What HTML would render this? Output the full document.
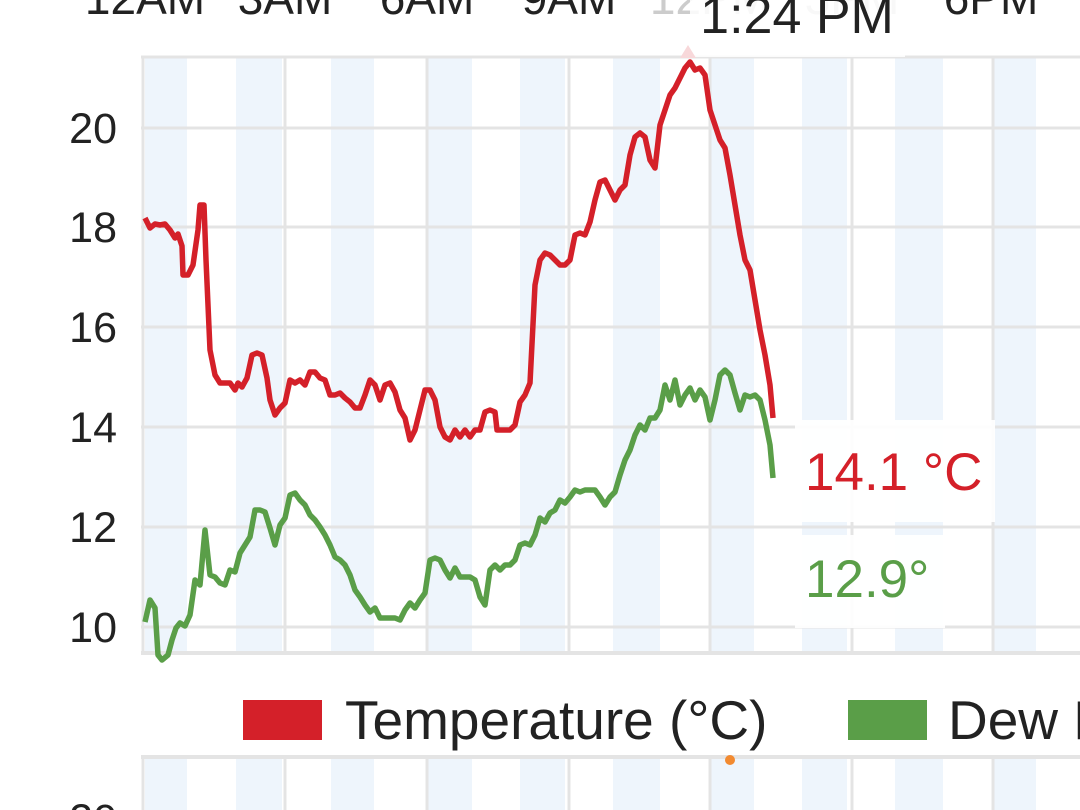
<!DOCTYPE html>
<html><head><meta charset="utf-8"><style>
html,body{margin:0;padding:0;background:#fff;width:1080px;height:810px;overflow:hidden}
svg{display:block;font-family:"Liberation Sans",sans-serif}
</style></head><body>
<svg width="1080" height="810" viewBox="0 0 1080 810">
<g fill="#eef5fc">
<rect x="145" y="57" width="42" height="596"/><rect x="236" y="57" width="46" height="596"/><rect x="331" y="57" width="43" height="596"/><rect x="427" y="57" width="45" height="596"/><rect x="520" y="57" width="45" height="596"/><rect x="613" y="57" width="47" height="596"/><rect x="709" y="57" width="45" height="596"/><rect x="802" y="57" width="45" height="596"/><rect x="895" y="57" width="48" height="596"/><rect x="992" y="57" width="44" height="596"/>
<rect x="145" y="757" width="42" height="60"/><rect x="236" y="757" width="46" height="60"/><rect x="331" y="757" width="43" height="60"/><rect x="427" y="757" width="45" height="60"/><rect x="520" y="757" width="45" height="60"/><rect x="613" y="757" width="47" height="60"/><rect x="709" y="757" width="45" height="60"/><rect x="802" y="757" width="45" height="60"/><rect x="895" y="757" width="48" height="60"/><rect x="992" y="757" width="44" height="60"/>
</g>
<g stroke="#e4e4e4" stroke-width="3">
<line x1="141" y1="57" x2="1080" y2="57"/>
<line x1="141" y1="128" x2="1080" y2="128"/><line x1="141" y1="227" x2="1080" y2="227"/><line x1="141" y1="327" x2="1080" y2="327"/><line x1="141" y1="427" x2="1080" y2="427"/><line x1="141" y1="527" x2="1080" y2="527"/><line x1="141" y1="627" x2="1080" y2="627"/>
<line x1="141" y1="653" x2="1080" y2="653" stroke-width="4"/>
<line x1="143" y1="57" x2="143" y2="653"/><line x1="285" y1="57" x2="285" y2="653"/><line x1="427" y1="57" x2="427" y2="653"/><line x1="569" y1="57" x2="569" y2="653"/><line x1="710" y1="57" x2="710" y2="653"/><line x1="852" y1="57" x2="852" y2="653"/><line x1="993" y1="57" x2="993" y2="653"/>
<line x1="141" y1="757" x2="1080" y2="757" stroke-width="4"/>
<line x1="143" y1="757" x2="143" y2="810"/><line x1="285" y1="757" x2="285" y2="810"/><line x1="427" y1="757" x2="427" y2="810"/><line x1="569" y1="757" x2="569" y2="810"/><line x1="710" y1="757" x2="710" y2="810"/><line x1="852" y1="757" x2="852" y2="810"/><line x1="993" y1="757" x2="993" y2="810"/>
</g>
<g font-size="43" fill="#222" text-anchor="end">
<text x="117" y="143">20</text><text x="117" y="242">18</text><text x="117" y="342">16</text><text x="117" y="442">14</text><text x="117" y="542">12</text><text x="117" y="642">10</text><text x="117" y="834">20</text>
</g>
<g font-size="46" fill="#222" text-anchor="middle">
<text x="145" y="14">12AM</text><text x="285" y="14">3AM</text><text x="427" y="14">6AM</text><text x="569" y="14">9AM</text><text x="710" y="14" fill="#ccc">12PM</text><text x="852" y="14" fill="#ccc">3PM</text><text x="991" y="14">6PM</text>
</g>
<rect x="690" y="-5" width="215" height="62" fill="#fff" opacity="0.85"/>
<polygon points="680,58 688,45 696,58" fill="#f8d8da"/>
<text x="797" y="33" font-size="52" fill="#222" text-anchor="middle">1:24 PM</text>
<polyline fill="none" stroke="#d42029" stroke-width="5.5" stroke-linejoin="round" points="145,218 150,228 155,224 160,225 165,224 170,230 175,238 178,234 182,246 183,275 188,275 193,265 198,230 200,205 204,205 206,260 210,350 215,375 220,383 225,383 230,383 235,390 238,383 242,387 247,378 252,355 257,353 262,355 267,378 270,400 275,415 280,408 285,403 290,380 295,383 300,380 305,385 310,372 315,372 320,378 325,380 330,395 335,395 340,393 345,398 350,402 355,408 360,408 365,395 370,380 375,385 380,400 385,385 390,383 395,392 400,410 405,418 410,440 415,430 420,410 425,390 430,390 435,400 440,427 445,437 450,440 455,430 460,437 465,430 470,437 475,430 480,430 485,412 490,410 495,412 497,430 505,430 510,430 515,425 520,402 525,395 530,383 535,285 540,260 545,253 550,255 555,260 560,265 565,265 570,260 575,235 580,233 585,235 590,222 595,200 600,182 605,180 610,190 615,200 620,190 625,185 630,155 635,137 640,133 645,137 650,160 655,168 660,125 665,110 670,95 675,88 680,78 685,68 690,62 695,70 700,68 705,75 710,110 715,125 720,140 725,148 730,175 735,205 740,235 745,260 750,270 755,300 760,330 765,355 770,385 773,418"/>
<polyline fill="none" stroke="#5a9e48" stroke-width="5.5" stroke-linejoin="round" points="145,622 150,600 155,608 158,655 162,660 168,655 172,640 176,628 180,623 185,626 190,615 195,580 200,585 205,530 210,575 215,577 220,583 225,585 230,570 235,572 240,553 245,545 250,537 255,510 260,510 265,512 270,528 275,545 280,525 285,518 290,495 295,493 300,500 305,505 310,515 315,520 320,527 325,535 330,545 335,557 340,560 345,565 350,575 355,590 360,597 365,605 370,612 375,608 380,618 385,618 390,618 395,618 400,620 405,610 410,603 415,608 420,600 425,593 430,560 435,558 440,560 445,570 450,578 455,568 460,577 465,577 470,577 475,580 480,597 485,605 490,570 495,565 500,570 505,565 510,565 515,560 520,545 525,543 530,545 535,535 540,518 545,522 550,513 555,510 560,500 565,503 570,497 575,490 580,492 585,490 590,490 595,490 600,497 605,505 610,497 615,492 620,475 625,460 630,450 635,435 640,425 645,430 650,418 655,418 660,410 665,385 670,400 675,380 680,405 685,395 690,388 695,400 700,390 705,397 710,420 715,400 720,375 725,370 730,375 735,393 740,410 745,395 750,397 755,395 760,400 765,420 770,445 773,478"/>
<rect x="795" y="420" width="200" height="102" fill="#fff" opacity="0.92"/>
<rect x="795" y="535" width="150" height="93" fill="#fff" opacity="0.92"/>
<text x="805" y="490" font-size="53" fill="#d42029">14.1 °C</text>
<text x="805" y="597" font-size="53" fill="#5a9e48">12.9°</text>
<rect x="243" y="700" width="79" height="40" fill="#d42029"/>
<text x="345" y="739" font-size="55" fill="#222">Temperature (°C)</text>
<rect x="848" y="700" width="79" height="40" fill="#5a9e48"/>
<text x="948" y="739" font-size="55" fill="#222">Dew Point</text>
<circle cx="730" cy="760" r="5" fill="#f28a30"/>
</svg>
</body></html>
